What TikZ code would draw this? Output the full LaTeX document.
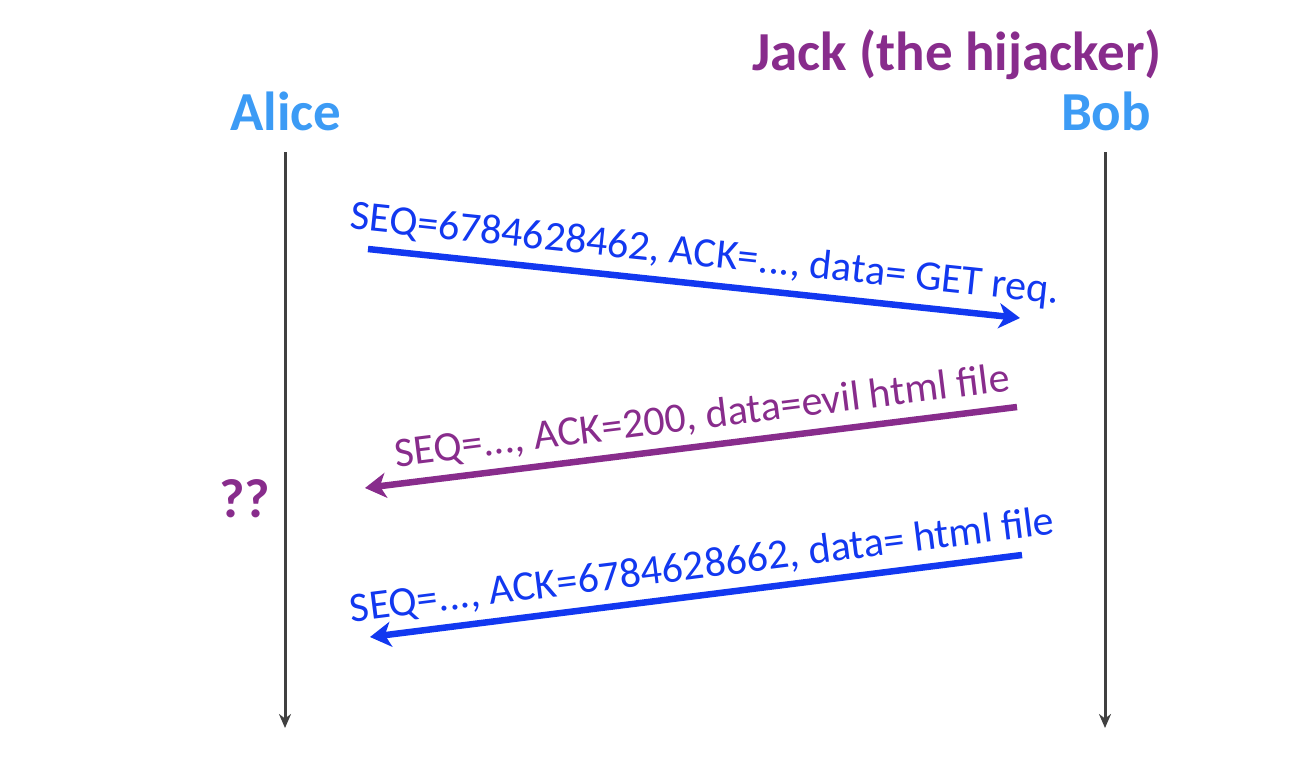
\documentclass[tikz,border=0pt]{standalone}
\usepackage{fontspec}
\setmainfont{Carlito}
\usetikzlibrary{arrows.meta}
\definecolor{hdrblue}{RGB}{60,155,245}
\definecolor{hijack}{RGB}{136,44,140}
\definecolor{msgblue}{RGB}{18,56,240}
\definecolor{lifegray}{RGB}{64,64,64}
\tikzset{
  header/.style={font=\fontsize{55}{66}\selectfont\bfseries, anchor=base, inner sep=0pt},
  lifeline/.style={draw=lifegray, line width=3pt, -{Stealth[length=14pt,width=12pt]}},
  msg/.style={line width=6.5pt, -{Stealth[length=21pt,width=25pt,inset=6pt]}},
  msglabel/.style={font=\fontsize{42}{50}\selectfont, sloped, above, inner sep=8pt},
}
\begin{document}
\begin{tikzpicture}[x=1pt,y=-1pt]
\useasboundingbox (0,0) rectangle (1304,774);
\node[header, text=hdrblue] (alice) at (286,130) {Alice};
\node[header, text=hdrblue] (bob) at (1106,130) {Bob};
\node[header, text=hijack] (jack) at (957,70) {Jack (the hijacker)};
\node[header, text=hijack] (qq) at (245,517) {??};
\coordinate (a1) at (285,152);
\coordinate (a2) at (285,728);
\coordinate (b1) at (1105,152);
\coordinate (b2) at (1105,728);
\draw[lifeline] (a1) -- (a2);
\draw[lifeline] (b1) -- (b2);
\coordinate (m1s) at (368,249);
\coordinate (m1e) at (1020,318);
\coordinate (m2s) at (1017,407);
\coordinate (m2e) at (365,488);
\coordinate (m3s) at (1022,555);
\coordinate (m3e) at (370,637);
\draw[msg, draw=msgblue, fill=msgblue] (m1s) -- (m1e) node[msglabel, text=msgblue, pos=0.512] (l1) {SEQ=6784628462, ACK=..., data= GET req.};
\draw[msg, draw=hijack, fill=hijack] (m2s) -- (m2e) node[msglabel, text=hijack, pos=0.477] (l2) {SEQ=..., ACK=200, data=evil html file};
\draw[msg, draw=msgblue, fill=msgblue] (m3s) -- (m3e) node[msglabel, text=msgblue, pos=0.485] (l3) {SEQ=..., ACK=6784628662, data= html file};
\end{tikzpicture}
\end{document}
